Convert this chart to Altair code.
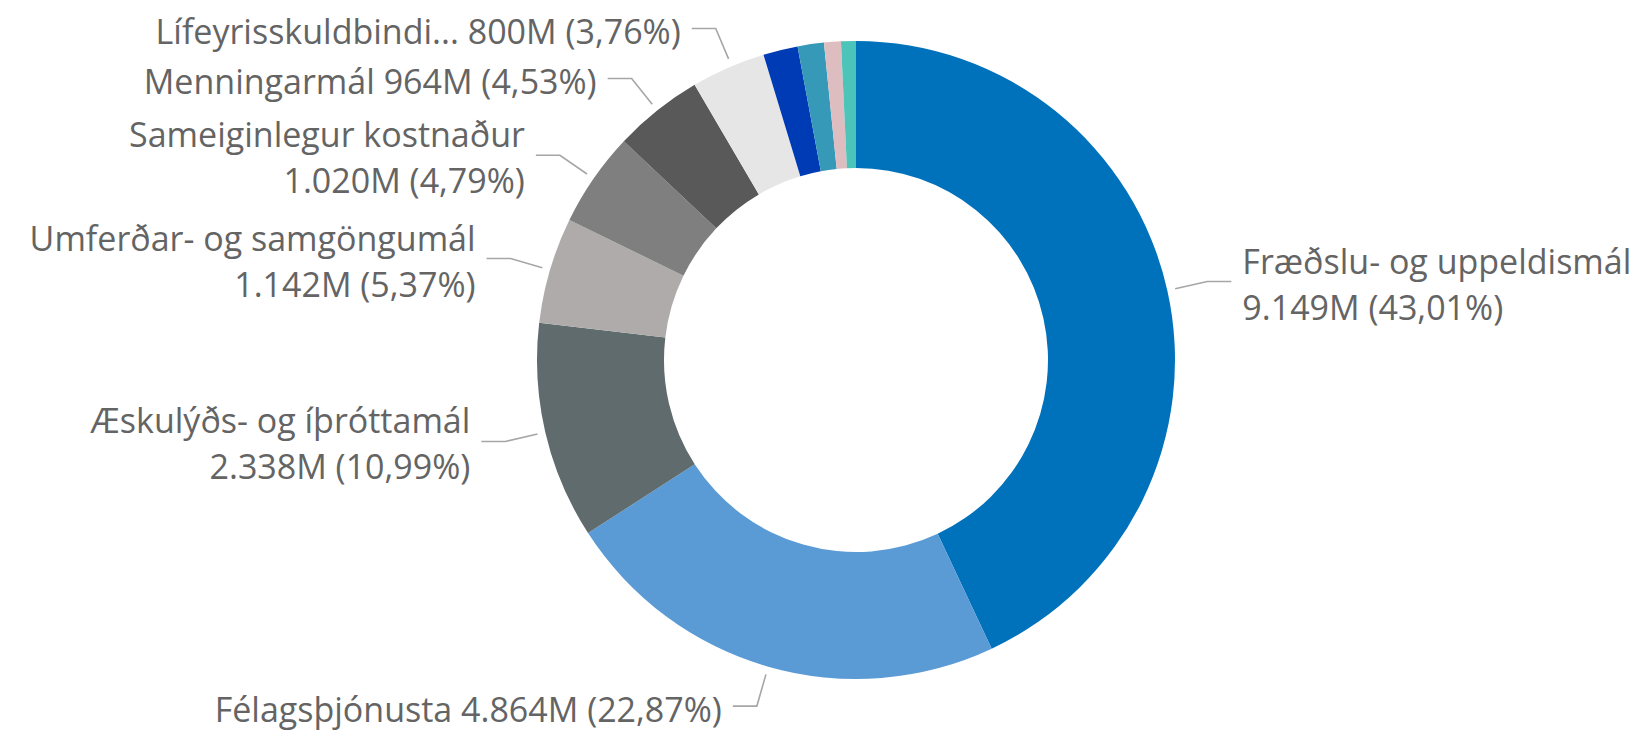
import math
import altair as alt
import pandas as pd

# ---------------- data ----------------
categories = [
    "Fræðslu- og uppeldismál",
    "Félagsþjónusta",
    "Æskulýðs- og íþróttamál",
    "Umferðar- og samgöngumál",
    "Sameiginlegur kostnaður",
    "Menningarmál",
    "Lífeyrisskuldbindi...",
    "Annað A",
    "Annað B",
    "Annað C",
    "Annað D",
]
values_m = [9149, 4864, 2338, 1142, 1020, 964, 800, 372, 283, 181, 160]
percents = [43.01, 22.87, 10.99, 5.37, 4.79, 4.53, 3.76, 1.75, 1.33, 0.85, 0.75]
shown_label = [True, True, True, True, True, True, True, False, False, False, False]

# ---------------- styles / layout ----------------
colors = ["#0072BC", "#5B9BD5", "#5F6B6D", "#AFABAA", "#7F7F7F", "#595959",
          "#E6E6E6", "#003BB6", "#3799B8", "#DEBDC0", "#4CC4B9"]
two_line = {"Fræðslu- og uppeldismál", "Æskulýðs- og íþróttamál",
            "Umferðar- og samgöngumál", "Sameiginlegur kostnaður"}

W, H = 1630, 723
OX, OY = 848, 352          # donut centre inside the plot area
R_OUT, R_IN = 319, 192
R_START, R_ELBOW = 327, 360
ARM, GAP = 24, 11
FS, LH = 34, 46
PAD = 5
TEXT_COLOR = "#646464"
LEADER_COLOR = "#A6A6A6"


def fmt_val(v):
    return f"{v:,}".replace(",", ".") + "M"


def fmt_pct(p):
    return "(" + f"{p:.2f}".replace(".", ",") + "%)"


total = sum(values_m)

slices = pd.DataFrame({
    "cat": categories,
    "val": values_m,
    "idx": list(range(len(categories))),
    "cx": [0] * len(categories),
    "cy": [0] * len(categories),
})

# label anchors from each slice's mid angle
labels = []
cum = 0
for c, v, p, show in zip(categories, values_m, percents, shown_label):
    a = (cum + v / 2) / total * 2 * math.pi
    cum += v
    if not show:
        continue
    side = 1 if math.sin(a) > 0 else -1
    labels.append({
        "cat": c, "val": v, "pct": p, "side": side,
        "ey": -R_ELBOW * math.cos(a),
        "h": 90 if c in two_line else 45,
    })

# simple collision avoidance: push labels upward on each side
for side in (1, -1):
    group = sorted([l for l in labels if l["side"] == side], key=lambda l: -l["ey"])
    prev = None
    for l in group:
        if prev is not None:
            need = (prev["h"] + l["h"]) / 2 + PAD
            l["ey"] = min(l["ey"], prev["ey"] - need)
        prev = l

line_rows, text_rows = [], []
for l in labels:
    ey = l["ey"]
    ex = l["side"] * math.sqrt(max(R_ELBOW ** 2 - ey ** 2, 0))
    ang = math.atan2(ex, -ey)
    sx, sy = R_START * math.sin(ang), -R_START * math.cos(ang)
    end_x = ex + l["side"] * ARM
    for seq, (px, py) in enumerate([(sx, sy), (ex, ey), (end_x, ey)]):
        line_rows.append({"cat": l["cat"], "seq": seq, "x": px, "y": py})
    tx = end_x + l["side"] * GAP
    sidename = "right" if l["side"] > 0 else "left"
    vt = fmt_val(l["val"]) + " " + fmt_pct(l["pct"])
    if l["cat"] in two_line:
        text_rows.append({"x": tx, "y": ey - 8, "t": l["cat"], "side": sidename})
        text_rows.append({"x": tx, "y": ey - 8 + LH, "t": vt, "side": sidename})
    else:
        text_rows.append({"x": tx, "y": ey + 16, "t": l["cat"] + " " + vt, "side": sidename})

lines_df = pd.DataFrame(line_rows)
text_df = pd.DataFrame(text_rows)

xs = alt.Scale(domain=[-OX, W - OX], nice=False, zero=False)
ys = alt.Scale(domain=[-OY, H - OY], nice=False, zero=False, reverse=True)

arcs = alt.Chart(slices).mark_arc(outerRadius=R_OUT, innerRadius=R_IN, stroke=None).encode(
    x=alt.X("cx:Q", scale=xs, axis=None),
    y=alt.Y("cy:Q", scale=ys, axis=None),
    theta=alt.Theta("val:Q", stack=True),
    order=alt.Order("idx:Q", sort="ascending"),
    color=alt.Color("cat:N", scale=alt.Scale(domain=categories, range=colors), legend=None),
)

leaders = alt.Chart(lines_df).mark_line(color=LEADER_COLOR, strokeWidth=1.6).encode(
    x=alt.X("x:Q", scale=xs, axis=None),
    y=alt.Y("y:Q", scale=ys, axis=None),
    detail="cat:N",
    order="seq:Q",
)

base_text = alt.Chart(text_df).encode(
    x=alt.X("x:Q", scale=xs, axis=None),
    y=alt.Y("y:Q", scale=ys, axis=None),
    text="t:N",
)
text_right = base_text.transform_filter(alt.datum.side == "right").mark_text(
    align="left", baseline="alphabetic", font="Open Sans", fontSize=FS, color=TEXT_COLOR)
text_left = base_text.transform_filter(alt.datum.side == "left").mark_text(
    align="right", baseline="alphabetic", font="Open Sans", fontSize=FS, color=TEXT_COLOR)

chart = alt.layer(arcs, leaders, text_right, text_left).properties(
    width=W, height=H, padding=0, autosize="none", background="white"
).configure_view(stroke=None)

chart.save("out.html", embed_options={"renderer": "svg", "actions": False})
